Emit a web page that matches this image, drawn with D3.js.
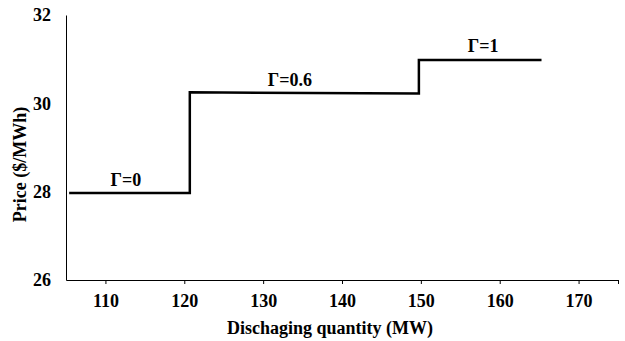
<!DOCTYPE html>
<html lang="en">
<head>
    <title>Step price curve</title>
    <style>
        body { margin: 0; background: #fff; }
        .chart text { font-family: "Liberation Serif", "Times New Roman", serif; font-weight: bold; fill: #000; font-size: 18px; }
        .chart .domain { stroke: #000; stroke-width: 1; }
        .chart .tick line { stroke: #000; }
    </style>
</head>
<body>
<div id="chart"></div>
<script src="https://d3js.org/d3.v7.min.js"></script>
<script>
    // step points (quantity MW, price $/MWh)
    var quantity = [105.4, 120.7, 120.7, 149.75, 149.75, 165.3];
    var price = [27.97, 27.97, 30.25, 30.22, 30.98, 30.98];

    var labelText = ["\u0393=0", "\u0393=0.6", "\u0393=1"];
    var labelX = [112.6, 133.4, 157.9];
    var labelY = [28.13, 30.39, 31.17];

    var xTicks = [110, 120, 130, 140, 150, 160, 170];
    var yTicks = [26, 28, 30, 32];

    var width = 625, height = 341;
    var margin = {top: 15, right: 7, bottom: 61, left: 66};

    var svg = d3.select("#chart").append("svg")
        .attr("class", "chart")
        .attr("width", width)
        .attr("height", height);

    var x = d3.scaleLinear().domain([105, 175]).range([margin.left, width - margin.right]);
    var y = d3.scaleLinear().domain([26, 32]).range([height - margin.bottom, margin.top]);

    var xAxis = d3.axisBottom(x).tickValues(xTicks.concat([175])).tickSize(4).tickSizeOuter(0)
        .tickFormat(function (d) { return d === 175 ? "" : d; });
    var yAxis = d3.axisLeft(y).tickValues(yTicks).tickSize(0).tickFormat(d3.format("d"));

    svg.append("g")
        .attr("transform", "translate(0," + y(26) + ")")
        .call(xAxis)
        .call(function (g) {
            g.selectAll("text").attr("dy", "1.1em");
        });

    svg.append("g")
        .attr("transform", "translate(" + x(105) + ",0)")
        .call(yAxis)
        .call(function (g) {
            g.selectAll("text").attr("x", -15);
        });

    var line = d3.line()
        .x(function (d, i) { return x(quantity[i]); })
        .y(function (d, i) { return y(price[i]); });

    svg.append("path")
        .datum(quantity)
        .attr("d", line)
        .attr("fill", "none")
        .attr("stroke", "#000")
        .attr("stroke-width", 2.5);

    svg.selectAll(".lbl")
        .data(labelText)
        .enter().append("text")
        .attr("class", "lbl")
        .attr("x", function (d, i) { return x(labelX[i]); })
        .attr("y", function (d, i) { return y(labelY[i]); })
        .attr("text-anchor", "middle")
        .text(function (d) { return d; });

    svg.append("text")
        .attr("x", (x(105) + x(175)) / 2 - 12)
        .attr("y", 334)
        .attr("text-anchor", "middle")
        .text("Dischaging quantity (MW)");

    svg.append("text")
        .attr("transform", "translate(26," + (y(29) + 17) + ") rotate(-90)")
        .attr("text-anchor", "middle")
        .text("Price ($/MWh)");
</script>
</body>
</html>
